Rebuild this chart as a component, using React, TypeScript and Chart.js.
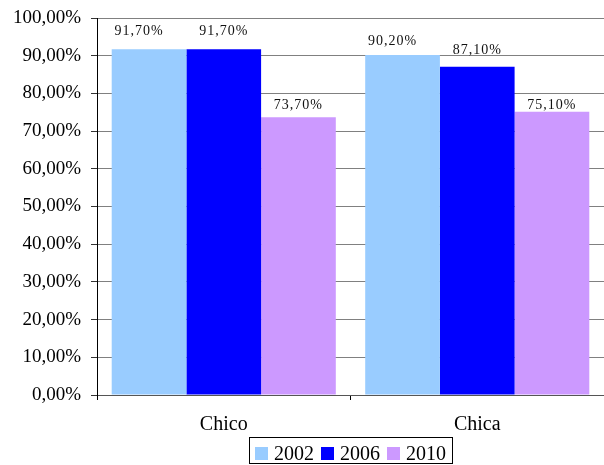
import React, { useEffect, useRef } from "react";
import { Chart, registerables } from "chart.js";

Chart.register(...registerables);

const categories = ["Chico", "Chica"];
const seriesLabels = ["2002", "2006", "2010"];
const values2002 = [91.7, 90.2];
const values2006 = [91.7, 87.1];
const values2010 = [73.7, 75.1];
const seriesColors = ["#99CCFF", "#0000FF", "#CC99FF"];

const FONT = "'Liberation Serif', 'Times New Roman', serif";

const fmt = (v: number) => v.toFixed(2).replace(".", ",") + "%";

// label nudges (dx, dy relative to bar top), per dataset / category
const labelNudges = [
  [[-10, -14], [-10, -10]],
  [[0, -14], [0, -13]],
  [[0, -8], [0, -3]],
];

const dataLabelsPlugin = {
  id: "dataLabels",
  afterDatasetsDraw(chart: any) {
    const ctx = chart.ctx;
    ctx.save();
    ctx.font = `14px ${FONT}`;
    (ctx as any).letterSpacing = "1px";
    ctx.fillStyle = "#111";
    ctx.textAlign = "center";
    ctx.textBaseline = "alphabetic";
    chart.data.datasets.forEach((ds: any, di: number) => {
      const meta = chart.getDatasetMeta(di);
      meta.data.forEach((el: any, i: number) => {
        const v = ds.data[i];
        const [dx, dy] = labelNudges[di][i];
        ctx.fillText(fmt(v), el.x + dx, el.y + dy);
      });
    });
    (ctx as any).letterSpacing = "0px";
    ctx.restore();
  },
};

const customLegendPlugin = {
  id: "customLegend",
  afterDraw(chart: any) {
    const ctx = chart.ctx;
    const ca = chart.chartArea;
    const datasets = chart.data.datasets;
    ctx.save();
    ctx.font = `20px ${FONT}`;
    const box = 13;
    const gapText = 6;
    const gapItem = 7;
    const pad = 6;
    const widths = datasets.map((d: any) => ctx.measureText(d.label).width);
    let total = pad * 2;
    widths.forEach((w: number, i: number) => {
      total += box + gapText + w;
      if (i < widths.length - 1) total += gapItem;
    });
    const cx = (ca.left + ca.right) / 2;
    const left = Math.round(cx - total / 2);
    const top = 437;
    const bottom = 463;
    ctx.strokeStyle = "#000";
    ctx.lineWidth = 1;
    ctx.strokeRect(left + 0.5, top + 0.5, total, bottom - top);
    let x = left + pad;
    ctx.textAlign = "left";
    ctx.textBaseline = "alphabetic";
    datasets.forEach((d: any, i: number) => {
      ctx.fillStyle = d.backgroundColor;
      ctx.fillRect(x, 447, box, box);
      x += box + gapText;
      ctx.fillStyle = "#000";
      ctx.fillText(d.label, x, 460);
      x += widths[i] + gapItem;
    });
    ctx.restore();
  },
};

export default function App() {
  const ref = useRef<HTMLCanvasElement | null>(null);

  useEffect(() => {
    if (!ref.current) return;
    const chart = new Chart(ref.current, {
      type: "bar",
      data: {
        labels: categories,
        datasets: [
          { label: seriesLabels[0], data: values2002, backgroundColor: seriesColors[0] },
          { label: seriesLabels[1], data: values2006, backgroundColor: seriesColors[1] },
          { label: seriesLabels[2], data: values2010, backgroundColor: seriesColors[2] },
        ],
      },
      options: {
        responsive: false,
        animation: false,
        devicePixelRatio: 1,
        layout: { padding: { top: 18, right: 0, left: 0, bottom: 28 } },
        datasets: {
          bar: { barPercentage: 1, categoryPercentage: 0.884 },
        },
        scales: {
          x: {
            grid: {
              display: true,
              drawOnChartArea: false,
              drawTicks: true,
              tickLength: 5,
              color: "#000",
              offset: true,
            },
            border: { display: true, color: "#555", width: 1 },
            ticks: {
              color: "#000",
              font: { family: FONT, size: 20 },
              padding: 13,
            },
            afterFit: (scale: any) => {
              scale.height = 42;
              scale.paddingLeft = 0;
              scale.paddingRight = 0;
            },
          },
          y: {
            min: 0,
            max: 100,
            ticks: {
              stepSize: 10,
              color: "#000",
              font: { family: FONT, size: 19 },
              padding: 10,
              callback: (v: any) => fmt(Number(v)),
            },
            grid: {
              color: "#808080",
              tickColor: "#333",
              tickLength: 6,
              drawTicks: true,
            },
            border: { display: true, color: "#000", width: 1 },
            afterFit: (scale: any) => {
              scale.width = 97;
              scale.paddingTop = 0;
              scale.paddingBottom = 0;
            },
          },
        },
        plugins: {
          legend: { display: false },
          tooltip: { enabled: false },
          title: { display: false },
        },
      } as any,
      plugins: [dataLabelsPlugin, customLegendPlugin],
    });
    return () => chart.destroy();
  }, []);

  return (
    <div style={{ position: "fixed", left: 0, top: 0, width: 604, height: 465, background: "#fff" }}>
      <canvas ref={ref} width={604} height={465} style={{ display: "block", width: 604, height: 465 }} />
    </div>
  );
}
